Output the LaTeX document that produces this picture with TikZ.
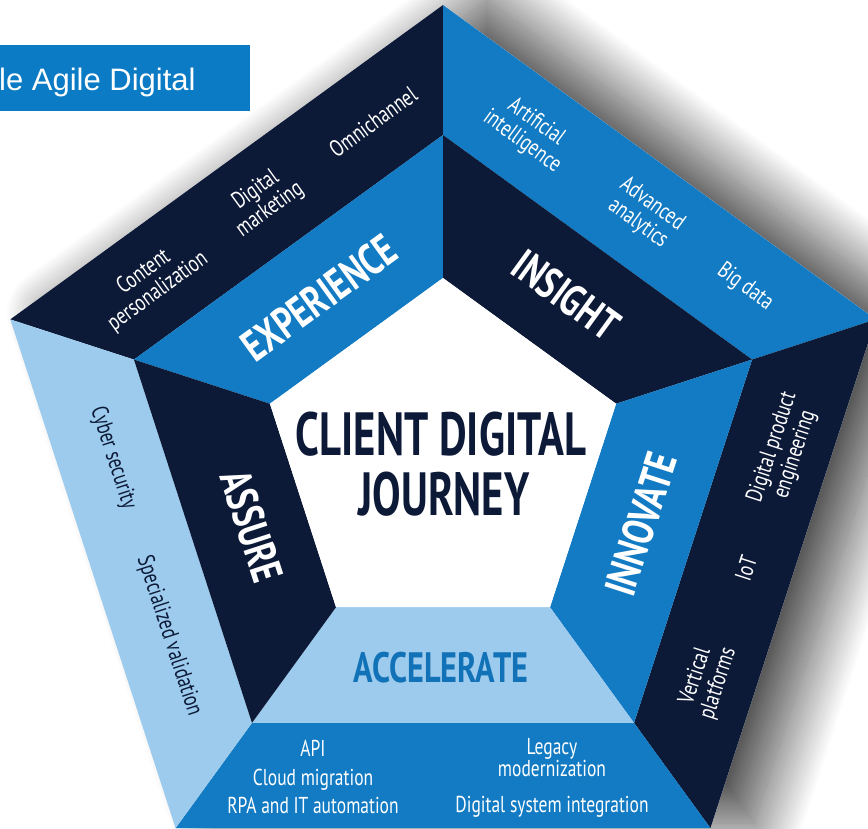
\documentclass[tikz,border=0pt]{standalone}
\usepackage{fontspec}
\setmainfont{PT Sans}
\newfontfamily\bandfont[FakeStretch=0.76]{PT Sans}
\newfontfamily\headfont[FakeStretch=0.76]{PT Sans}
\newfontfamily\titlefont[FakeStretch=0.70]{PT Sans}
\newfontfamily\bannerfont{Liberation Sans}
\usetikzlibrary{shadows.blur}

\definecolor{navy}{HTML}{0D1A37}
\definecolor{midblue}{HTML}{127BC4}
\definecolor{lightblue}{HTML}{9CCBED}
\definecolor{bannerblue}{HTML}{0A7BC4}
\definecolor{accelblue}{HTML}{1272B8}

\begin{document}
\begin{tikzpicture}[x=1pt,y=-1pt,
  item/.style={font=\bandfont\fontsize{23.5}{24}\selectfont, text=white, align=center, inner sep=0pt},
  darkitem/.style={item, text=navy},
  heading/.style={font=\headfont\bfseries\fontsize{44}{44}\selectfont, text=white, inner sep=0pt},
  listitem/.style={font=\bandfont\fontsize{23}{23}\selectfont, text=white, inner sep=0pt, anchor=base},
  title/.style={font=\titlefont\bfseries\fontsize{61}{61}\selectfont, text=navy, inner sep=0pt, anchor=base}]
\useasboundingbox (0,0) rectangle (868,829);
\clip (0,0) rectangle (868,829);

% corner points of the three concentric pentagons (outer, middle, inner)
\coordinate (o1) at (443,5);
\coordinate (o2) at (10.27,319.40);
\coordinate (o3) at (175.56,828.10);
\coordinate (o4) at (710.44,828.10);
\coordinate (o5) at (875.73,319.40);
\coordinate (m1) at (443,135);
\coordinate (m2) at (133.91,359.57);
\coordinate (m3) at (251.97,722.93);
\coordinate (m4) at (634.03,722.93);
\coordinate (m5) at (752.09,359.57);
\coordinate (i1) at (443,278);
\coordinate (i2) at (269.91,403.76);
\coordinate (i3) at (336.02,607.24);
\coordinate (i4) at (549.98,607.24);
\coordinate (i5) at (616.09,403.76);

% soft drop shadow behind the whole pentagon, cast to the right
\path[fill=white, blur shadow={shadow xshift=44pt, shadow yshift=5pt,
  shadow blur radius=48pt, shadow blur steps=48, shadow opacity=72}]
  (o1)--(o2)--(o3)--(o4)--(o5)--cycle;

% outer ring
\fill[navy]      (m2)--(m1)--(o1)--(o2)--cycle;
\fill[midblue]   (m1)--(o1)--(o5)--(m5)--cycle;
\fill[navy]      (m5)--(o5)--(o4)--(m4)--cycle;
\fill[midblue]   (m4)--(o4)--(o3)--(m3)--cycle;
\fill[lightblue] (m3)--(o3)--(o2)--(m2)--cycle;
% inner ring
\fill[midblue]   (i2)--(i1)--(m1)--(m2)--cycle;
\fill[navy]      (i1)--(i5)--(m5)--(m1)--cycle;
\fill[midblue]   (i5)--(i4)--(m4)--(m5)--cycle;
\fill[lightblue] (i4)--(i3)--(m3)--(m4)--cycle;
\fill[navy]      (i3)--(i2)--(m2)--(m3)--cycle;
% centre
\fill[white] (i1)--(i2)--(i3)--(i4)--(i5)--cycle;

% banner
\fill[bannerblue] (0,45) rectangle (250,111);
\node[font=\bannerfont\fontsize{31}{31}\selectfont, text=white, inner sep=0pt,
  anchor=base west] (banner) at (-1,91) {le Agile Digital};

% centre title
\node[title] (title1) at (441,455) {CLIENT DIGITAL};
\node[title] (title2) at (444,515) {JOURNEY};

% EXPERIENCE
\node[heading, rotate=36] (experience) at (319,298) {EXPERIENCE};
\node[item, rotate=36] (content) at (151,282) {Content\\personalization};
\node[item, rotate=36] (marketing) at (263,200) {Digital\\marketing};
\node[item, rotate=36] (omni) at (373,122) {Omnichannel};

% INSIGHT
\node[heading, rotate=-36] (insight) at (566,295) {INSIGHT};
\node[item, rotate=-36] (ai) at (529,132) {Artificial\\intelligence};
\node[item, rotate=-36] (analytics) at (645,214) {Advanced\\analytics};
\node[item, rotate=-36] (bigdata) at (745,287) {Big data};

% INNOVATE
\node[heading, rotate=72] (innovate) at (641,524) {INNOVATE};
\node[item, rotate=72] (dpe) at (784,451) {Digital product\\engineering};
\node[item, rotate=72] (iot) at (746,568) {IoT};
\node[item, rotate=72] (vertical) at (707,680) {Vertical\\platforms};

% ACCELERATE
\node[heading, text=accelblue, font=\headfont\bfseries\fontsize{42.5}{43}\selectfont] (accelerate) at (441,668) {ACCELERATE};
\node[listitem] (api) at (313,756) {API};
\node[listitem] (cloud) at (313,785) {Cloud migration};
\node[listitem] (rpa) at (313,813) {RPA and IT automation};
\node[listitem] (legacy) at (552,754) {Legacy};
\node[listitem] (modern) at (552,776) {modernization};
\node[listitem] (dsi) at (552,812) {Digital system integration};

% ASSURE
\node[heading, rotate=-72] (assure) at (252,526) {ASSURE};
\node[darkitem, rotate=-72] (cyber) at (113,458) {Cyber security};
\node[darkitem, rotate=-72] (validation) at (169,636) {Specialized validation};
\end{tikzpicture}
\end{document}
